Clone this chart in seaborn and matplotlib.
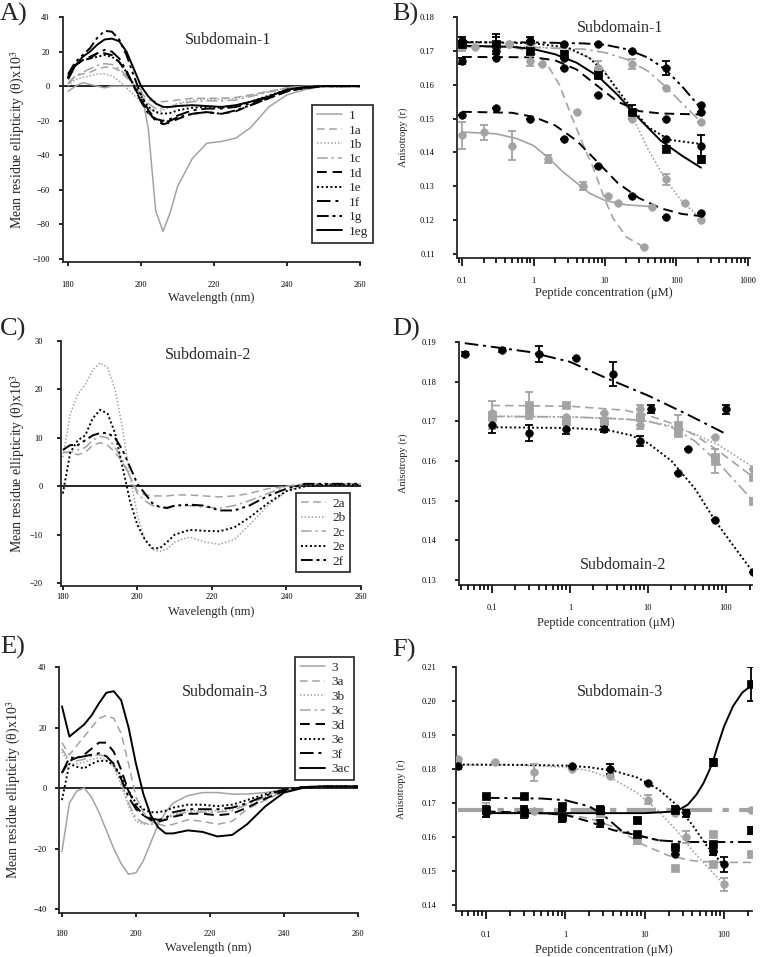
import numpy as np
import matplotlib
matplotlib.use("Agg")
import matplotlib.pyplot as plt
import seaborn as sns

# ---------------- data: CD spectra (x10^3) ----------------
WL = [180, 182, 184, 186, 188, 190, 192, 194, 196, 198, 200, 202, 204, 206, 208,
      210, 214, 218, 222, 226, 230, 235, 240, 245, 250, 260]

cd_1 = [-3, 0, 2, 1, 0, -1, 0, 0, 0, 0, -2, -25, -72, -84, -73, -58, -42, -33, -32, -30, -24, -12, -5, -2, 0, 0]
cd_1a = [2, 6, 7, 8, 10, 11, 11, 9, 5, 1, -4, -8, -9, -9, -8.5, -8, -7, -7, -7, -6.5, -5, -3, -1, 0, 0, 0]
cd_1b = [0, 4, 5, 6, 7, 7, 6, 3, -1, -5, -9, -13, -15, -14, -12, -10, -8, -7.5, -7.5, -7, -5.5, -3, -1, 0, 0, 0]
cd_1c = [1, 6, 8, 10, 12, 13, 12.5, 10, 6, 1, -5, -10, -13, -13, -12, -10.5, -9, -8.5, -8.5, -8, -6, -3.5, -1, 0, 0, 0]
cd_1d = [4, 12, 15, 17, 19, 19, 18, 14, 8, 0, -8, -15, -20, -22, -21, -19, -16, -15, -16, -14.5, -11, -7, -3, -1, 0, 0]
cd_1e = [5, 12, 15, 16, 17, 18, 17, 14, 8, 1, -6, -12, -15, -16, -15.5, -14, -12.5, -12, -12.5, -11.5, -9, -5.5, -2, -0.5, 0, 0]
cd_1f = [6, 13, 15, 16, 19, 21, 20, 16, 9, 0, -9, -16, -19, -20, -19, -17, -14, -13, -13, -12, -10, -6, -2.5, -1, 0, 0]
cd_1g = [7, 14, 18, 22, 28, 32, 31.5, 27, 18, 6, -5, -14, -19, -21, -20, -18, -16, -15, -16, -14, -11, -7, -3, -1, 0, 0]
cd_1eg = [5, 12, 17, 20, 24, 27, 27.5, 26, 20, 10, 0, -6, -10, -12, -12, -11.5, -11, -11.5, -12, -11, -9, -6, -2, -0.5, 0, 0]

cd_2a = [7, 7, 6.5, 7, 8.5, 9, 8.5, 7, 5, 2, -1, -1.8, -2, -2, -2, -1.8, -1.8, -2, -2.2, -2, -1.5, -0.5, 0, 0.5, 0.5, 0.5]
cd_2b = [6, 15, 19, 21, 24, 25.5, 24.5, 20, 12, 2, -6, -11, -13, -13.5, -13, -11.5, -10.5, -11.5, -12, -11, -8, -4, -1, 0.3, 0.5, 0.5]
cd_2c = [7, 7, 7.5, 8, 9.5, 10.3, 10, 8, 5.5, 2, -1.5, -3, -4, -4.3, -4.3, -4, -4, -4.3, -4.5, -4, -3, -1.5, 0, 0.5, 0.5, 0.5]
cd_2e = [-1.5, 7, 9.5, 10.5, 14, 15.8, 15, 11, 4, -3, -8, -11, -12.8, -12.8, -11.5, -10, -9, -9.2, -9.3, -8.5, -6.5, -3.5, -1, 0, 0.3, 0.3]
cd_2f = [7.5, 8.5, 8.5, 9.5, 10.5, 11, 11, 10, 7.5, 4, 0.5, -1.5, -3.5, -4.3, -4.5, -4, -3.8, -4, -5, -5, -4, -2, -0.5, 0.5, 0.5, 0.5]

cd_3 = [-21, -5, -1, 0, -3, -8, -14, -20, -25, -28.5, -28, -24, -18, -12, -8, -5, -2.5, -1.5, -1.5, -2, -2, -1.5, -0.5, 0.3, 0.5, 0.5]
cd_3a = [15, 11, 14, 17, 20, 23, 24, 23, 18, 8, -3, -8, -11, -12, -12.5, -12, -10.5, -11, -12, -11, -7, -4, -1, 0.3, 0.5, 0.5]
cd_3b = [12, 8, 8, 8.5, 9.5, 10, 9.5, 7, 1, -6, -11, -12, -12, -11, -10, -8.5, -7.5, -7.5, -7.5, -7, -5, -2.5, -0.5, 0.3, 0.5, 0.5]
cd_3c = [13, 9, 9, 9.5, 10.5, 11, 10.5, 8, 2, -5, -10, -11.5, -12, -11.5, -10.5, -9, -8, -8, -8, -7.5, -5.5, -3, -1, 0.3, 0.5, 0.5]
cd_3d = [5, 9, 10, 11, 13, 15, 15, 12, 6, -1, -6, -9, -10.5, -11, -10.5, -9.5, -8.5, -8.5, -9, -8.5, -6.5, -3.5, -1, 0.3, 0.5, 0.5]
cd_3e = [-4, 8, 7, 6.5, 8, 9, 9, 7.5, 4, -1, -5, -7, -8, -8, -7.5, -6.5, -5.5, -5.5, -6, -5.5, -4, -2, -0.5, 0.3, 0.5, 0.5]
cd_3f = [5, 10, 10, 10.5, 11, 11.5, 10.5, 8, 3, -3, -7, -9, -10, -10.5, -10, -8, -7, -7, -7, -6.5, -5, -2.5, -0.5, 0.3, 0.5, 0.5]
cd_3ac = [27, 17, 19, 21, 24, 28, 31.5, 32, 29, 20, 8, -2, -9, -13, -15, -15, -14, -14.5, -16, -15.5, -12, -6, -1.5, 0, 0.5, 0.5]

# ---------------- data: anisotropy titrations ----------------
# panel B (subdomain-1)
b1g_x = [0.1, 0.3, 0.9, 2.7, 8, 24, 72, 220]
b1g_y = [0.173, 0.172, 0.173, 0.172, 0.172, 0.170, 0.165, 0.154]
b1g_err = [0.001, 0.002, 0.001, 0, 0, 0, 0.002, 0]
b1g_fx = [0.1, 1, 5, 10, 20, 40, 70, 120, 220]
b1g_fy = [0.1725, 0.1725, 0.1722, 0.1718, 0.1705, 0.168, 0.1645, 0.1595, 0.153]

b1c_x = [0.1, 0.15, 0.45, 0.9, 8, 24, 72, 220]
b1c_y = [0.171, 0.171, 0.172, 0.167, 0.165, 0.166, 0.159, 0.149]
b1c_err = [0.001, 0, 0, 0.0015, 0.002, 0.0015, 0, 0]
b1c_fx = [0.1, 1, 5, 10, 20, 40, 70, 120, 220]
b1c_fy = [0.1712, 0.171, 0.1705, 0.1695, 0.1675, 0.164, 0.1595, 0.1545, 0.149]

b1eg_x = [0.1, 0.3, 0.9, 2.7, 8, 24, 72, 220]
b1eg_y = [0.172, 0.172, 0.170, 0.169, 0.163, 0.152, 0.141, 0.138]
b1eg_err = [0.001, 0.003, 0.001, 0.001, 0.001, 0.002, 0.001, 0.001]
b1eg_fx = [0.1, 0.5, 1, 2, 4, 8, 15, 30, 60, 120, 220]
b1eg_fy = [0.1715, 0.1712, 0.1705, 0.169, 0.1665, 0.1625, 0.157, 0.150, 0.1435, 0.139, 0.1355]

b1e_x = [0.1, 0.3, 0.9, 2.7, 8, 24, 72, 220]
b1e_y = [0.173, 0.170, 0.173, 0.168, 0.163, 0.152, 0.144, 0.142]
b1e_err = [0, 0, 0, 0, 0, 0, 0, 0.003]
b1e_fx = [0.1, 1, 3, 6, 10, 20, 40, 80, 220]
b1e_fy = [0.1727, 0.1722, 0.171, 0.168, 0.1635, 0.155, 0.1475, 0.1437, 0.1425]

b1d_x = [0.1, 0.3, 2.7, 8, 72, 220]
b1d_y = [0.167, 0.168, 0.165, 0.157, 0.150, 0.152]
b1d_err = [0.001, 0, 0, 0, 0, 0]
b1d_fx = [0.1, 1, 2, 4, 8, 15, 30, 60, 220]
b1d_fy = [0.1682, 0.1681, 0.1672, 0.1645, 0.1595, 0.155, 0.1522, 0.1515, 0.1512]

b1a_x = [0.1, 0.45, 1.3, 4, 35]
b1a_y = [0.171, 0.172, 0.166, 0.152, 0.112]
b1a_err = [0, 0, 0, 0, 0]
b1a_fx = [0.1, 0.5, 1, 1.5, 2.3, 3.5, 5, 6.7, 10, 13, 20, 35]
b1a_fy = [0.1715, 0.1712, 0.1695, 0.1665, 0.160, 0.150, 0.142, 0.136, 0.126, 0.1205, 0.115, 0.112]

b1f_x = [0.1, 0.3, 0.9, 2.7, 8, 24, 72, 220]
b1f_y = [0.151, 0.153, 0.150, 0.144, 0.136, 0.127, 0.121, 0.122]
b1f_err = [0, 0, 0, 0, 0, 0, 0, 0]
b1f_fx = [0.1, 0.5, 1, 2, 4, 8, 15, 30, 60, 120, 220]
b1f_fy = [0.152, 0.1517, 0.1505, 0.148, 0.1435, 0.137, 0.131, 0.1265, 0.1235, 0.1218, 0.1212]

b1_x = [0.1, 0.2, 0.5, 1.6, 5, 11, 15, 45]
b1_y = [0.145, 0.146, 0.142, 0.138, 0.130, 0.127, 0.125, 0.124]
b1_err = [0.004, 0.0022, 0.0042, 0.0012, 0.0012, 0, 0, 0]
b1_fx = [0.1, 0.3, 0.6, 1, 1.6, 2.5, 4, 6, 10, 20, 45]
b1_fy = [0.146, 0.1455, 0.144, 0.142, 0.1385, 0.1345, 0.131, 0.128, 0.1258, 0.1245, 0.124]

b1b_x = [0.1, 0.9, 8, 24, 72, 130, 220]
b1b_y = [0.171, 0.172, 0.165, 0.150, 0.132, 0.125, 0.120]
b1b_err = [0, 0, 0.002, 0, 0.0015, 0, 0]
b1b_fx = [0.1, 1, 3, 6, 10, 15, 25, 40, 70, 120, 220]
b1b_fy = [0.1715, 0.1712, 0.1705, 0.168, 0.164, 0.158, 0.150, 0.141, 0.132, 0.1255, 0.1205]

# panel D (subdomain-2)
d2f_x = [0.045, 0.135, 0.4, 1.2, 3.6, 11, 100]
d2f_y = [0.187, 0.188, 0.187, 0.186, 0.182, 0.173, 0.173]
d2f_err = [0.0005, 0.0005, 0.002, 0, 0.003, 0.001, 0.0012]
d2f_fx = [0.045, 0.1, 0.3, 1, 3, 10, 30, 100]
d2f_fy = [0.1897, 0.1888, 0.1875, 0.185, 0.1808, 0.1765, 0.172, 0.1668]

d2e_x = [0.1, 0.3, 0.9, 2.7, 8, 24, 33, 72, 220]
d2e_y = [0.169, 0.167, 0.168, 0.168, 0.165, 0.157, 0.163, 0.145, 0.132]
d2e_err = [0.002, 0.002, 0.0012, 0.0008, 0.0012, 0, 0, 0, 0]
d2e_fx = [0.1, 1, 3, 6, 10, 20, 40, 72, 120, 220]
d2e_fy = [0.1685, 0.1683, 0.1678, 0.1665, 0.1645, 0.160, 0.153, 0.145, 0.139, 0.132]

d2a_x = [0.1, 0.3, 0.9, 2.7, 8, 24, 72, 220]
d2a_y = [0.1715, 0.174, 0.174, 0.170, 0.171, 0.169, 0.160, 0.156]
d2a_err = [0.0035, 0.0035, 0, 0, 0.003, 0.0025, 0.003, 0]
d2a_fx = [0.1, 1, 5, 10, 20, 40, 80, 220]
d2a_fy = [0.174, 0.1738, 0.1728, 0.1715, 0.1695, 0.1665, 0.1625, 0.156]

d2c_x = [0.1, 0.3, 0.9, 2.7, 8, 24, 72, 220]
d2c_y = [0.171, 0.172, 0.170, 0.170, 0.171, 0.167, 0.161, 0.150]
d2c_err = [0, 0, 0, 0, 0, 0, 0, 0]
d2c_fx = [0.1, 1, 5, 10, 20, 40, 80, 220]
d2c_fy = [0.1712, 0.1711, 0.1706, 0.170, 0.1685, 0.165, 0.1595, 0.150]

d2b_x = [0.1, 0.3, 0.9, 2.7, 8, 8, 24, 72, 220]
d2b_y = [0.172, 0.1735, 0.171, 0.172, 0.173, 0.169, 0.168, 0.166, 0.158]
d2b_err = [0, 0, 0, 0, 0, 0, 0, 0, 0]
d2b_fx = [0.1, 1, 5, 10, 20, 40, 80, 220]
d2b_fy = [0.1713, 0.1711, 0.1705, 0.170, 0.1688, 0.1668, 0.164, 0.1585]

# panel F (subdomain-3)
f3ac_x = [0.1, 0.3, 0.9, 2.7, 8, 24, 72, 220]
f3ac_y = [0.168, 0.167, 0.166, 0.168, 0.165, 0.168, 0.182, 0.205]
f3ac_err = [0.001, 0.0015, 0.0015, 0.001, 0.001, 0.001, 0.001, 0.005]
f3ac_fx = [0.1, 1, 10, 25, 35, 45, 55, 65, 72, 85, 100, 130, 170, 220]
f3ac_fy = [0.167, 0.167, 0.167, 0.1675, 0.1695, 0.1725, 0.1758, 0.1795, 0.182, 0.1875, 0.1925, 0.1985, 0.2025, 0.2045]

f3e_x = [0.045, 1.2, 3.7, 11, 33, 72, 100]
f3e_y = [0.181, 0.181, 0.180, 0.176, 0.167, 0.156, 0.152]
f3e_err = [0.001, 0, 0.0015, 0, 0.001, 0.0012, 0.0022]
f3e_fx = [0.045, 0.3, 1, 2, 4, 8, 15, 25, 40, 60, 100]
f3e_fy = [0.1813, 0.1812, 0.181, 0.1805, 0.1795, 0.1775, 0.174, 0.1695, 0.1635, 0.1575, 0.1515]

f3b_x = [0.045, 0.13, 0.4, 1.2, 3.7, 11, 33, 100]
f3b_y = [0.183, 0.182, 0.179, 0.180, 0.178, 0.171, 0.160, 0.146]
f3b_err = [0, 0, 0.0025, 0, 0, 0.0012, 0.0018, 0.002]
f3b_fx = [0.045, 0.3, 1, 2, 4, 8, 15, 25, 40, 60, 100]
f3b_fy = [0.1812, 0.1811, 0.1805, 0.1795, 0.177, 0.173, 0.1675, 0.162, 0.156, 0.1515, 0.146]

f3c_x = [0.1, 0.4, 24, 220]
f3c_y = [0.168, 0.1675, 0.167, 0.168]
f3c_err = [0.002, 0, 0, 0]
f3c_fx = [0.045, 220]
f3c_fy = [0.168, 0.168]

f3f_x = [0.1, 0.3, 0.9, 2.7, 8, 24, 72, 220]
f3f_y = [0.172, 0.172, 0.169, 0.168, 0.161, 0.157, 0.158, 0.162]
f3f_err = [0, 0, 0, 0, 0, 0, 0, 0.001]
f3f_fx = [0.1, 0.5, 1, 2, 3, 5, 8, 15, 30, 220]
f3f_fy = [0.1715, 0.1713, 0.1708, 0.169, 0.1665, 0.162, 0.1605, 0.159, 0.1585, 0.1585]

f3d_x = [0.1, 0.3, 0.9, 2.7, 24, 24, 72]
f3d_y = [0.167, 0.168, 0.166, 0.164, 0.155, 0.157, 0.156]
f3d_err = [0.001, 0.001, 0.0015, 0.001, 0, 0, 0]
f3d_fx = [0.1, 0.5, 1, 2, 4, 8, 15]
f3d_fy = [0.1675, 0.167, 0.1665, 0.1645, 0.162, 0.1605, 0.159]

f3a_x = [0.1, 0.3, 0.9, 2.7, 8, 8, 24, 72, 72, 220]
f3a_y = [0.168, 0.167, 0.166, 0.167, 0.159, 0.165, 0.151, 0.152, 0.161, 0.155]
f3a_err = [0.001, 0, 0, 0, 0.0012, 0, 0, 0, 0, 0]
f3a_fx = [0.1, 1, 2, 4, 6, 10, 20, 40, 80, 220]
f3a_fy = [0.1675, 0.1665, 0.1655, 0.163, 0.1605, 0.1575, 0.1545, 0.153, 0.1525, 0.1525]

# ---------------- styles ----------------
GREY = "#a3a3a3"
BLACK = "#000000"
SOLID = "-"
DASH = (0, (5, 3))
DOT = (0, (1, 1.3))
DASHDOT = (0, (7, 2.5, 1.5, 2.5))
DASHDOTDOT = (0, (6, 2, 1.5, 2, 1.5, 2))

sns.set_style("ticks")
plt.rcParams["font.family"] = ["Liberation Serif", "DejaVu Serif"]
plt.rcParams["mathtext.fontset"] = "stix"
plt.rcParams["axes.linewidth"] = 1.3
plt.rcParams["xtick.color"] = "black"
plt.rcParams["ytick.color"] = "black"

fig = plt.figure(figsize=(7.6, 9.57), dpi=100)
W, H = 760.0, 957.0


def add_ax(left, top, right, bottom):
    return fig.add_axes([left / W, 1 - bottom / H, (right - left) / W, (bottom - top) / H])


def style_ax(ax, xpad, ypad, xlab_y, ylab_x, decades=None):
    ax.spines["top"].set_visible(False)
    ax.spines["right"].set_visible(False)
    ax.tick_params(axis="both", which="major", direction="out", labelsize=6, length=3, width=1.2,
                   top=False, right=False)
    ax.tick_params(axis="x", which="major", pad=xpad)
    ax.tick_params(axis="y", which="major", pad=ypad)
    if decades is not None:
        ax.set_xticks(decades)
        ax.set_xticklabels([("%g" % v) for v in decades])
        ax.xaxis.set_minor_locator(plt.NullLocator())
        ax.tick_params(axis="x", which="major", length=5.5)
        # short log ticks (2..9 of each decade) below the axis line
        lo, hi = ax.get_xlim()
        short = [m * 10.0 ** e for e in range(-3, 4) for m in range(2, 10)
                 if lo <= m * 10.0 ** e <= hi]
        ax_h_pt = ax.get_position().height * H * 72.0 / fig.dpi
        ax.vlines(short, 0, -3.5 / ax_h_pt, transform=ax.get_xaxis_transform(),
                  colors="black", linewidth=1.2, clip_on=False, zorder=5)
    ax.xaxis.set_label_coords(0.5, xlab_y)
    ax.yaxis.set_label_coords(ylab_x, 0.5)


def cd_panel(ax, curves, lims, yticks, title, tpos, legend_anchor, pads):
    for label, ydata, color, ls in curves:
        lw = 1.4 if color == BLACK else 1.1
        sns.lineplot(x=WL, y=ydata, ax=ax, color=color, linestyle=ls, linewidth=lw,
                     label=label, sort=False, errorbar=None)
    ax.axhline(0, color="black", lw=1.2, zorder=0)
    ax.set_xlim(lims[0], 260)
    ax.set_ylim(lims[1], lims[2])
    ax.set_xticks([180, 200, 220, 240, 260])
    ax.set_yticks(yticks)
    ax.set_xlabel("Wavelength (nm)", fontsize=9)
    ax.set_ylabel("Mean residue ellipticity (θ)x10$^3$", fontsize=10)
    ax.text(tpos[0], tpos[1], title, transform=ax.transAxes, ha="center", va="center", fontsize=11.5)
    style_ax(ax, *pads)
    leg = ax.legend(loc="upper left", bbox_to_anchor=legend_anchor, frameon=True, fancybox=False,
                    fontsize=9.5, handlelength=1.9, labelspacing=0.17, borderpad=0.35,
                    handletextpad=0.5, borderaxespad=0)
    leg.get_frame().set_edgecolor("black")
    leg.get_frame().set_linewidth(1.3)


def ani_panel(ax, series, xlim, ylim, yticks, xticks, title, tpos, pads):
    for x, y, err, fx, fy, color, marker, ls, lw in series:
        sns.lineplot(x=fx, y=fy, ax=ax, color=color, linestyle=ls, linewidth=lw,
                     sort=False, errorbar=None)
        ax.errorbar(x, y, yerr=err, fmt="none", ecolor=color, elinewidth=1.3, capsize=2.8,
                    capthick=1.3, zorder=3)
        sns.scatterplot(x=x, y=y, ax=ax, color=color, marker=marker, s=30, edgecolor=color,
                        linewidth=0.5, zorder=4, legend=False)
    ax.set_xscale("log")
    ax.set_xlim(*xlim)
    ax.set_ylim(*ylim)
    ax.set_yticks(yticks)
    ax.set_yticklabels(["%.2f" % v for v in yticks])
    ax.set_xlabel("Peptide concentration (μM)", fontsize=9)
    ax.set_ylabel("Anisotropy (r)", fontsize=7.5)
    ax.text(tpos[0], tpos[1], title, transform=ax.transAxes, ha="center", va="center", fontsize=11.5)
    style_ax(ax, *pads, decades=xticks)


# ---- A ----
axA = add_ax(63, 17, 360, 262)
cd_panel(axA, [
    ("1", cd_1, GREY, SOLID), ("1a", cd_1a, GREY, DASH), ("1b", cd_1b, GREY, DOT),
    ("1c", cd_1c, GREY, DASHDOT), ("1d", cd_1d, BLACK, DASH), ("1e", cd_1e, BLACK, DOT),
    ("1f", cd_1f, BLACK, DASHDOT), ("1g", cd_1g, BLACK, DASHDOTDOT), ("1eg", cd_1eg, BLACK, SOLID),
], (178.6, -101.7, 40), [-100, -80, -60, -40, -20, 0, 20, 40], "Subdomain-1", (0.556, 0.906),
    (0.84, 0.64), (11, 6.5, -0.122, -0.121))

# ---- C ----
axC = add_ax(61, 341, 361, 586)
cd_panel(axC, [
    ("2a", cd_2a, GREY, DASH), ("2b", cd_2b, GREY, DOT), ("2c", cd_2c, GREY, DASHDOT),
    ("2e", cd_2e, BLACK, DOT), ("2f", cd_2f, BLACK, DASHDOTDOT),
], (179.5, -20.6, 30), [-20, -10, 0, 10, 20, 30], "Subdomain-2", (0.49, 0.943),
    (0.783, 0.38), (2, 10, -0.082, -0.113))

# ---- E ----
axE = add_ax(59, 667, 358, 913)
cd_panel(axE, [
    ("3", cd_3, GREY, SOLID), ("3a", cd_3a, GREY, DASH), ("3b", cd_3b, GREY, DOT),
    ("3c", cd_3c, GREY, DASHDOT), ("3d", cd_3d, BLACK, DASH), ("3e", cd_3e, BLACK, DOT),
    ("3f", cd_3f, BLACK, DASHDOT), ("3ac", cd_3ac, BLACK, SOLID),
], (179.2, -41.3, 40), [-40, -20, 0, 20, 40], "Subdomain-3", (0.555, 0.898),
    (0.79, 1.04), (9, 6, -0.118, -0.12))

# ---- B ----
axB = add_ax(457, 17, 750, 258)
ani_panel(axB, [
    (b1_x, b1_y, b1_err, b1_fx, b1_fy, GREY, "o", SOLID, 1.2),
    (b1a_x, b1a_y, b1a_err, b1a_fx, b1a_fy, GREY, "o", DASH, 1.2),
    (b1b_x, b1b_y, b1b_err, b1b_fx, b1b_fy, GREY, "o", DOT, 1.2),
    (b1c_x, b1c_y, b1c_err, b1c_fx, b1c_fy, GREY, "o", DASHDOT, 1.2),
    (b1f_x, b1f_y, b1f_err, b1f_fx, b1f_fy, BLACK, "o", DASH, 1.4),
    (b1d_x, b1d_y, b1d_err, b1d_fx, b1d_fy, BLACK, "o", DASH, 1.4),
    (b1e_x, b1e_y, b1e_err, b1e_fx, b1e_fy, BLACK, "o", DOT, 1.4),
    (b1g_x, b1g_y, b1g_err, b1g_fx, b1g_fy, BLACK, "o", DASHDOTDOT, 1.4),
    (b1eg_x, b1eg_y, b1eg_err, b1eg_fx, b1eg_fy, BLACK, "s", SOLID, 1.4),
], (0.085, 1070), (0.1088, 0.18), [0.11, 0.12, 0.13, 0.14, 0.15, 0.16, 0.17, 0.18],
    [0.1, 1, 10, 100, 1000], "Subdomain-1", (0.556, 0.954), (8.3, 13, -0.12, -0.167))

# ---- D ----
axD = add_ax(459, 342, 752, 585)
ani_panel(axD, [
    (d2a_x, d2a_y, d2a_err, d2a_fx, d2a_fy, GREY, "s", DASH, 1.2),
    (d2c_x, d2c_y, d2c_err, d2c_fx, d2c_fy, GREY, "s", DASHDOT, 1.2),
    (d2b_x, d2b_y, d2b_err, d2b_fx, d2b_fy, GREY, "o", DOT, 1.2),
    (d2e_x, d2e_y, d2e_err, d2e_fx, d2e_fy, BLACK, "o", DOT, 1.4),
    (d2f_x, d2f_y, d2f_err, d2f_fx, d2f_fy, BLACK, "o", DASHDOT, 1.4),
], (0.038, 215), (0.1287, 0.19), [0.13, 0.14, 0.15, 0.16, 0.17, 0.18, 0.19],
    [0.1, 1, 10, 100], "Subdomain-2", (0.56, 0.082), (8.3, 13, -0.132, -0.174))

# ---- F ----
axF = add_ax(456, 667, 752, 911)
ani_panel(axF, [
    (f3c_x, f3c_y, f3c_err, f3c_fx, f3c_fy, GREY, "o", DASHDOT, 3.0),
    (f3a_x, f3a_y, f3a_err, f3a_fx, f3a_fy, GREY, "s", DASH, 1.2),
    (f3b_x, f3b_y, f3b_err, f3b_fx, f3b_fy, GREY, "o", DOT, 1.2),
    (f3d_x, f3d_y, f3d_err, f3d_fx, f3d_fy, BLACK, "o", DASH, 1.4),
    (f3f_x, f3f_y, f3f_err, f3f_fx, f3f_fy, BLACK, "s", DASHDOT, 1.4),
    (f3e_x, f3e_y, f3e_err, f3e_fx, f3e_fy, BLACK, "o", DOT, 1.4),
    (f3ac_x, f3ac_y, f3ac_err, f3ac_fx, f3ac_fy, BLACK, "s", SOLID, 1.4),
], (0.042, 225), (0.1382, 0.21), [0.14, 0.15, 0.16, 0.17, 0.18, 0.19, 0.20, 0.21],
    [0.1, 1, 10, 100], "Subdomain-3", (0.554, 0.898), (9, 11, -0.135, -0.169))

# panel letters
for label, px, py in [("A)", 0, 3), ("B)", 392, 3), ("C)", 0, 318), ("D)", 392, 318),
                      ("E)", 0, 636), ("F)", 392, 639)]:
    fig.text(px / W, 1 - py / H, label, fontsize=19, va="top", ha="left")

fig.savefig("out.png", dpi=100)
